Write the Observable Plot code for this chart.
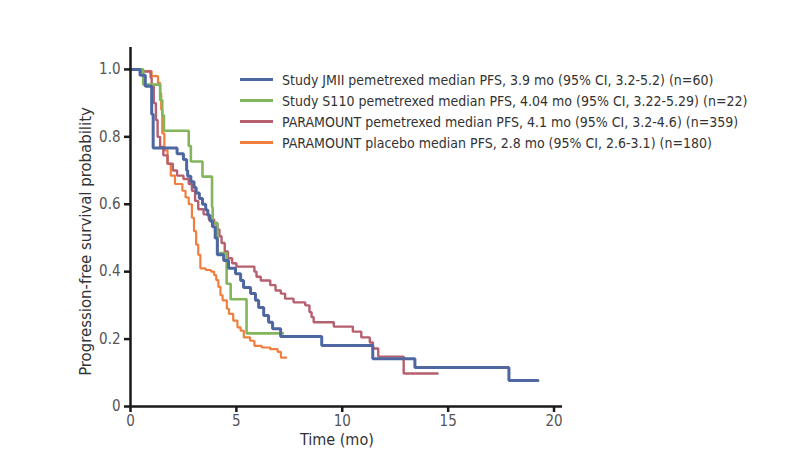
<!DOCTYPE html>
<html><head><meta charset="utf-8">
<script src="https://cdn.jsdelivr.net/npm/d3@7"></script>
<script src="https://cdn.jsdelivr.net/npm/@observablehq/plot@0.6"></script>
<style>
body{margin:0;background:#fff;}
#wrap{position:relative;width:788px;height:468px;font-family:"DejaVu Sans Condensed","Liberation Sans Narrow",sans-serif;}
#legend{position:absolute;left:240px;top:69px;}
.row{display:flex;align-items:center;height:21px;font-size:14px;color:#333;white-space:nowrap;}
.sw{width:33px;height:3px;margin-right:9px;}
.title{position:absolute;font-size:16px;color:#333;white-space:nowrap;}
#yt{font-size:16.6px;}
</style></head>
<body><div id="wrap"><div id="chart"></div><div id="legend"></div>
<div class="title" id="xt">Time (mo)</div>
<div class="title" id="yt">Progression-free survival probability</div>
</div>
<script>
const seriesNames = ["JMII", "S110", "PARAMOUNT pem", "PARAMOUNT placebo"];
const legendLabels = [
  "Study JMII pemetrexed median PFS, 3.9 mo (95% CI, 3.2-5.2) (n=60)",
  "Study S110 pemetrexed median PFS, 4.04 mo (95% CI, 3.22-5.29) (n=22)",
  "PARAMOUNT pemetrexed median PFS, 4.1 mo (95% CI, 3.2-4.6) (n=359)",
  "PARAMOUNT placebo median PFS, 2.8 mo (95% CI, 2.6-3.1) (n=180)"
];
const colors = ["#4e67a0", "#82b55c", "#b65f6f", "#f07f3e"];
const widths = [3, 2.6, 2.4, 2.2];

const jmiiT = [0,0.45,0.7,1.0,1.07,2.2,2.5,2.65,2.7,2.85,3.0,3.1,3.25,3.4,3.55,3.65,3.75,3.87,4.0,4.1,4.4,4.63,4.96,5.2,5.34,5.67,5.9,6.05,6.29,6.52,6.71,7.09,9.03,11.44,13.43,17.87,19.24];
const jmiiP = [1.0,0.983,0.95,0.867,0.767,0.75,0.733,0.70,0.683,0.667,0.65,0.633,0.617,0.60,0.583,0.567,0.55,0.533,0.50,0.45,0.433,0.41,0.394,0.374,0.353,0.335,0.315,0.294,0.27,0.25,0.231,0.208,0.181,0.142,0.116,0.077,0.077];

const s110T = [0,0.6,1.4,1.5,1.58,2.75,2.85,3.4,3.85,3.88,4.1,4.54,4.73,5.48,7.2];
const s110P = [1.0,0.955,0.909,0.864,0.818,0.773,0.727,0.682,0.591,0.545,0.455,0.364,0.318,0.217,0.217];

const pemT = [0,0.5,0.95,1.0,1.1,1.2,1.28,1.4,1.55,1.75,2.0,2.2,2.5,2.75,2.9,3.05,3.2,3.45,3.7,3.95,4.1,4.2,4.3,4.45,4.6,4.8,5.0,5.85,5.95,6.15,6.6,6.85,7.1,7.3,7.7,8.25,8.45,8.55,8.65,9.6,10.5,10.9,11.3,11.45,11.7,12.9,14.5];
const pemP = [1.0,0.994,0.975,0.95,0.9,0.85,0.8,0.77,0.745,0.72,0.70,0.685,0.675,0.66,0.64,0.61,0.585,0.57,0.555,0.543,0.525,0.505,0.485,0.46,0.44,0.425,0.415,0.40,0.385,0.374,0.36,0.344,0.335,0.32,0.309,0.30,0.28,0.265,0.25,0.237,0.222,0.205,0.19,0.172,0.148,0.098,0.098];

const plaT = [0,0.5,1.0,1.3,1.4,1.45,1.5,1.6,1.75,1.9,2.1,2.45,2.6,2.75,2.9,3.0,3.1,3.2,3.3,3.55,3.8,3.95,4.05,4.15,4.25,4.35,4.55,4.65,4.85,5.05,5.2,5.35,5.65,5.85,6.2,6.6,6.95,7.1,7.35];
const plaP = [1.0,0.995,0.98,0.96,0.93,0.88,0.81,0.76,0.72,0.685,0.66,0.64,0.62,0.60,0.56,0.52,0.48,0.45,0.41,0.405,0.40,0.39,0.375,0.355,0.33,0.315,0.29,0.275,0.255,0.235,0.225,0.205,0.195,0.18,0.175,0.17,0.162,0.145,0.145];

const xTicks = [0,5,10,15,20];
const yTicks = [0,0.2,0.4,0.6,0.8,1.0];

const allT = [jmiiT, s110T, pemT, plaT];
const allP = [jmiiP, s110P, pemP, plaP];
const data = [];
allT.forEach((ts, i) => ts.forEach((t, j) => data.push({series: seriesNames[i], t, p: allP[i][j], idx: i})));

const lineMarks = seriesNames.map((s, i) =>
  Plot.line(data.filter(d => d.idx === i), {x: "t", y: "p", curve: "step-after", stroke: colors[i], strokeWidth: widths[i], strokeLinejoin: "miter"})
).reverse();

const chart = Plot.plot({
  width: 788, height: 468,
  marginLeft: 130, marginRight: 226, marginTop: 47, marginBottom: 62,
  style: {fontFamily: '"DejaVu Sans Condensed","Liberation Sans Narrow",sans-serif', fontSize: "15px", background: "#fff"},
  x: {domain: [0, 20.4], ticks: xTicks, label: null},
  y: {domain: [0, 1.065], ticks: yTicks, label: null, tickFormat: d => d === 0 ? "0" : d.toFixed(1)},
  marks: [
    ...lineMarks,
    Plot.axisX({ticks: xTicks, tickSize: 6, tickPadding: 3, stroke: "#1a1a1a", strokeWidth: 2.5, fill: "#555", label: null}),
    Plot.axisY({ticks: yTicks, tickSize: 6, tickPadding: 4, stroke: "#1a1a1a", strokeWidth: 2.5, fill: "#555", label: null, tickFormat: d => d === 0 ? "0" : d.toFixed(1)}),
    Plot.ruleY([0], {stroke: "#1a1a1a", strokeWidth: 2.5}),
    Plot.ruleX([0], {stroke: "#1a1a1a", strokeWidth: 2.5})
  ]
});
document.getElementById("chart").appendChild(chart);

const leg = document.getElementById("legend");
legendLabels.forEach((l, i) => {
  const r = document.createElement("div"); r.className = "row";
  const sw = document.createElement("span"); sw.className = "sw"; sw.style.background = colors[i]; sw.style.height = widths[i] + "px";
  const tx = document.createElement("span"); tx.textContent = l;
  r.appendChild(sw); r.appendChild(tx); leg.appendChild(r);
});
const xt = document.getElementById("xt");
xt.style.left = (337 - xt.offsetWidth / 2) + "px"; xt.style.top = "430px";
const yt = document.getElementById("yt");
yt.style.left = (85 - yt.offsetWidth / 2) + "px"; yt.style.top = (241 - yt.offsetHeight / 2) + "px";
yt.style.transform = "rotate(-90deg)";
</script>
</body></html>
